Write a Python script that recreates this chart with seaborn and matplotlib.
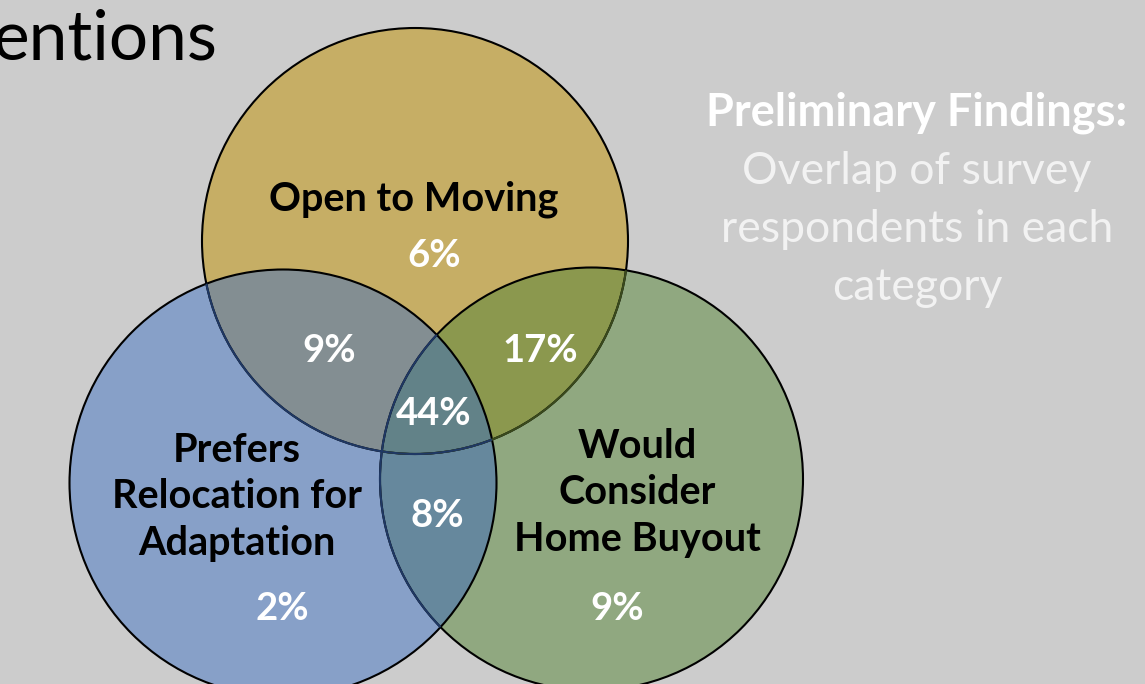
import numpy as np
import matplotlib
matplotlib.use("Agg")
import matplotlib.pyplot as plt
from matplotlib.patches import Circle, Polygon
import seaborn as sns

# ---------------- data ----------------
set_names = ["Open to Moving", "Prefers\nRelocation for\nAdaptation", "Would\nConsider\nHome Buyout"]
only_pct = [6, 2, 9]            # top only, left only, right only
pair_names = ["Open & Relocation", "Open & Buyout", "Relocation & Buyout"]
pair_pct = [9, 17, 8]
all_pct = 44
side_title = "Preliminary Findings:"
side_body = ["Overlap of survey", "respondents in each", "category"]
header = "entions"

# ---------------- style ----------------
sns.set_theme(style="white")
plt.rcParams["font.family"] = ["Lato", "DejaVu Sans"]

BG = "#CCCCCC"
C_TOP, C_LEFT, C_RIGHT = "#C6AE65", "#87A0C8", "#90A880"
C_TL, C_TR, C_LR, C_ALL = "#838E92", "#8B984E", "#66889D", "#628288"
NAVY, OLIVE = "#1F3864", "#3A4A1C"

fig = plt.figure(figsize=(11.45, 6.84), dpi=100)
fig.patch.set_facecolor(BG)
ax = fig.add_axes([0, 0, 1, 1])
ax.set_facecolor(BG)
ax.set_xlim(0, 1145)
ax.set_ylim(684, 0)
ax.set_aspect("equal")
ax.axis("off")

# circle layout (pixel space)
geo = {"top": (415, 241, 213), "left": (283, 483, 213.5), "right": (591.5, 479, 211.5)}

def circ(key, **kw):
    x, y, r = geo[key]
    p = Circle((x, y), r, **kw)
    ax.add_patch(p)
    return p

top = circ("top", fc=C_TOP, ec="none", zorder=1)
right = circ("right", fc=C_RIGHT, ec="none", zorder=1)
left = circ("left", fc=C_LEFT, ec="none", zorder=1)

# pairwise overlaps
p = circ("right", fc=C_TR, ec="none", zorder=2); p.set_clip_path(top)
p = circ("left", fc=C_TL, ec="none", zorder=2); p.set_clip_path(top)
p = circ("left", fc=C_LR, ec="none", zorder=2); p.set_clip_path(right)

# triple overlap polygon (convex intersection of three circles)
def inside(pt, key):
    x, y, r = geo[key]
    return (pt[:, 0] - x) ** 2 + (pt[:, 1] - y) ** 2 <= r ** 2 + 1e-6

t = np.linspace(0, 2 * np.pi, 2000)
pts = []
keys = ["top", "left", "right"]
for k in keys:
    x, y, r = geo[k]
    c = np.column_stack([x + r * np.cos(t), y + r * np.sin(t)])
    mask = np.ones(len(c), bool)
    for o in keys:
        if o != k:
            mask &= inside(c, o)
    pts.append(c[mask])
pts = np.vstack(pts)
cen = pts.mean(axis=0)
order = np.argsort(np.arctan2(pts[:, 1] - cen[1], pts[:, 0] - cen[0]))
ax.add_patch(Polygon(pts[order], closed=True, fc=C_ALL, ec="none", zorder=3))

# outlines
LW = 1.5
for k in keys:
    circ(k, fill=False, ec="black", lw=LW, zorder=4)
p = circ("top", fill=False, ec=OLIVE, lw=LW, zorder=5); p.set_clip_path(right)
p = circ("top", fill=False, ec=NAVY, lw=LW, zorder=6); p.set_clip_path(left)
p = circ("right", fill=False, ec=NAVY, lw=LW, zorder=6); p.set_clip_path(left)

# ---------------- text ----------------
FS_LABEL = 28.5
FS_PCT = 27.5
kw_name = dict(ha="center", va="center", fontsize=FS_LABEL, fontweight="bold", color="black",
               zorder=10, linespacing=1.3)
kw_pct = dict(ha="center", va="center", fontsize=FS_PCT, fontweight="bold", color="white", zorder=10)

ax.text(414, 199, set_names[0], **kw_name)
ax.text(237, 497, set_names[1], **kw_name)
ax.text(637, 493, set_names[2], **kw_name)

ax.text(434, 256, f"{only_pct[0]}%", **kw_pct)
ax.text(282, 609, f"{only_pct[1]}%", **kw_pct)
ax.text(617, 609, f"{only_pct[2]}%", **kw_pct)
ax.text(329, 351, f"{pair_pct[0]}%", **kw_pct)
ax.text(540, 351, f"{pair_pct[1]}%", **kw_pct)
ax.text(437, 516, f"{pair_pct[2]}%", **kw_pct)
ax.text(434, 414, f"{all_pct}%", **kw_pct)

ax.text(917, 113, side_title, ha="center", va="center", fontsize=32.5, fontweight="bold", color="white")
for i, line in enumerate(side_body):
    ax.text(917, 172 + 57.5 * i, line, ha="center", va="center", fontsize=32, color="#F2F2F2")

ax.text(-8, 40, header, ha="left", va="center", fontsize=50, color="black")

fig.savefig("out.png", dpi=100, facecolor=BG)
